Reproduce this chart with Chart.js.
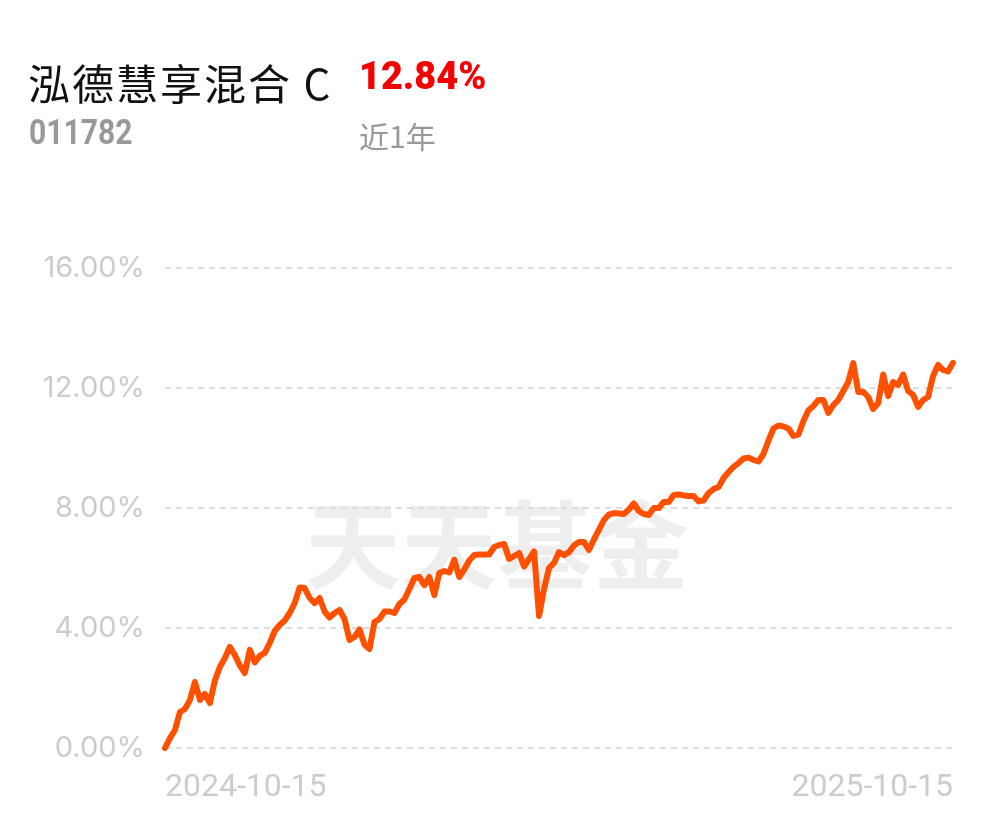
<!DOCTYPE html>
<html>
<head>
<meta charset="utf-8">
<script src="https://cdn.jsdelivr.net/npm/chart.js@4/dist/chart.umd.min.js"></script>
<style>
  body { margin: 0; background: #fff; width: 995px; height: 821px; overflow: hidden; }
  #wrap { position: relative; width: 995px; height: 821px; }
  .t { position: absolute; white-space: nowrap; }
  #name { left: 28px; top: 51px; font: 42px "Noto Sans CJK SC", sans-serif; letter-spacing: 2px; color: #111; }
  #pct { left: 359px; top: 53px; font: 900 39px Roboto, sans-serif; color: #f50000; transform: scaleX(0.97); transform-origin: left; }
  #code { left: 29px; top: 112px; font: bold 35px Roboto, sans-serif; color: #999; transform: scaleX(0.86); transform-origin: left; }
  #period { left: 359px; top: 113px; font: 30px "Noto Sans CJK SC", sans-serif; color: #999; }
  canvas { position: absolute; left: 0; top: 0; }
</style>
</head>
<body>
<div id="wrap">
  <canvas id="c" width="995" height="821"></canvas>
  <div class="t" id="name">泓德慧享混合 C</div>
  <div class="t" id="pct">12.84%</div>
  <div class="t" id="code">011782</div>
  <div class="t" id="period">近1年</div>
</div>
<script>
// 近1年累计收益率（%），约每 1.5 个交易日取一个点
const returns = [
  0.0, 0.33, 0.6, 1.2, 1.3, 1.6, 2.2, 1.6, 1.8, 1.5,
  2.25, 2.7, 3.0, 3.37, 3.1, 2.75, 2.5, 3.27, 2.85, 3.07,
  3.17, 3.5, 3.9, 4.1, 4.25, 4.5, 4.83, 5.35, 5.33, 5.0,
  4.83, 5.0, 4.55, 4.35, 4.5, 4.6, 4.3, 3.6, 3.7, 3.95,
  3.45, 3.3, 4.2, 4.3, 4.55, 4.55, 4.5, 4.8, 4.95, 5.3,
  5.67, 5.7, 5.43, 5.7, 5.1, 5.83, 5.9, 5.85, 6.27, 5.7,
  5.95, 6.25, 6.43, 6.45, 6.45, 6.45, 6.7, 6.77, 6.8, 6.3,
  6.4, 6.5, 6.05, 6.3, 6.55, 4.4, 5.3, 6.0, 6.17, 6.53,
  6.43, 6.53, 6.75, 6.87, 6.87, 6.6, 6.95, 7.27, 7.6, 7.78,
  7.83, 7.82, 7.8, 7.95, 8.15, 7.9, 7.8, 7.77, 8.0, 8.0,
  8.2, 8.2, 8.43, 8.45, 8.42, 8.4, 8.4, 8.22, 8.25, 8.5,
  8.63, 8.7, 9.0, 9.2, 9.37, 9.5, 9.65, 9.68, 9.6, 9.55,
  9.8, 10.25, 10.65, 10.75, 10.72, 10.65, 10.4, 10.45, 10.9, 11.25,
  11.4, 11.6, 11.6, 11.17, 11.43, 11.6, 11.9, 12.2, 12.83, 11.87,
  11.87, 11.7, 11.3, 11.5, 12.45, 11.73, 12.2, 12.1, 12.45, 11.9,
  11.77, 11.37, 11.6, 11.7, 12.4, 12.77, 12.6, 12.55, 12.84
];
const xTickLabels = ["2024-10-15", "2025-10-15"];
const yTicks = [0, 4, 8, 12, 16];

const labels = returns.map((_, i) =>
  i === 0 ? xTickLabels[0] : i === returns.length - 1 ? xTickLabels[1] : ""
);

// 水印
const watermark = {
  id: "watermark",
  beforeDraw(chart) {
    const ctx = chart.ctx;
    ctx.save();
    ctx.font = 'bold 96px "Noto Sans CJK SC"';
    ctx.fillStyle = "rgba(0,0,0,0.065)";
    ctx.textAlign = "center";
    ctx.textBaseline = "middle";
    ctx.fillText("天天基金", 497, 545);
    ctx.restore();
  }
};

new Chart(document.getElementById("c"), {
  type: "line",
  data: {
    labels: labels,
    datasets: [{
      data: returns,
      borderColor: "#ff5000",
      borderWidth: 6,
      pointRadius: 0,
      tension: 0,
      clip: 8,
      borderJoinStyle: "round",
      borderCapStyle: "round"
    }]
  },
  options: {
    responsive: false,
    animation: false,
    layout: { padding: { top: 268, right: 42, bottom: 0, left: 0 } },
    plugins: { legend: { display: false }, tooltip: { enabled: false } },
    scales: {
      x: {
        grid: { display: false, drawTicks: false },
        border: { display: false },
        afterFit: (s) => { s.height = 73; },
        ticks: {
          autoSkip: false,
          maxRotation: 0,
          align: "inner",
          padding: 21,
          color: "#cccccc",
          font: { family: "Roboto", size: 32 }
        }
      },
      y: {
        min: 0,
        max: 16,
        afterFit: (s) => { s.width = 165; },
        afterBuildTicks: (s) => { s.ticks = yTicks.map((v) => ({ value: v })); },
        grid: { color: "#dddddd", lineWidth: 2, drawTicks: false },
        border: { display: false, dash: [6, 5] },
        ticks: {
          padding: 20,
          color: "#cccccc",
          font: { family: "Inter", size: 29 },
          callback: (v) => v.toFixed(2) + "%"
        }
      }
    }
  },
  plugins: [watermark]
});
</script>
</body>
</html>
